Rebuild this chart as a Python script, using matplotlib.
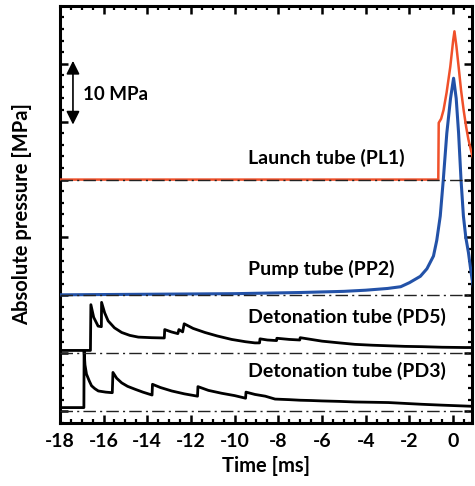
import matplotlib
matplotlib.use("Agg")
import matplotlib.pyplot as plt
from matplotlib.ticker import MultipleLocator

plt.rcParams['font.family'] = ['Lato', 'DejaVu Sans']
plt.rcParams['font.weight'] = 'bold'

# Launch tube PL1 (offset baseline 40 MPa)
pl1_t = [-18, -0.68, -0.66, -0.55, -0.44, -0.3, -0.13, 0.0, 0.06, 0.15, 0.25, 0.36, 0.48, 0.6, 0.70, 0.82, 0.93]
pl1_p = [40, 40, 49.8, 50.5, 52, 55, 59.5, 64, 65.6, 63, 59.5, 55.5, 52, 49, 46.9, 45, 43.4]

# Pump tube PP2 (offset baseline 20 MPa)
pp2_t = [-18, -14, -10, -7, -5, -4, -3, -2.4, -2.0, -1.5, -1.2, -0.9, -0.75, -0.59, -0.45, -0.29, -0.12, 0.02, 0.14, 0.25, 0.36, 0.47, 0.58, 0.70, 0.82, 0.93]
pp2_p = [20.1, 20.2, 20.3, 20.5, 20.7, 20.9, 21.2, 21.5, 22.2, 23.3, 24.6, 26.8, 29.5, 33.7, 40, 48, 54, 57.5, 54, 48, 40, 33.7, 30, 27.4, 24, 21.3]

# Detonation tube PD5 (offset baseline 10 MPa)
pd5_t = [-18, -16.6, -16.58, -16.45, -16.25, -16.1, -16.09, -15.95, -15.79, -15.5, -15.17, -14.8, -14.41, -13.8, -13.22, -13.2,
         -12.9, -12.6, -12.55, -12.38, -12.31, -11.9, -11.36, -10.8, -10.14, -9.5, -9.07, -8.86, -8.84, -8.5, -8.08, -8.07,
         -7.5, -7.02, -7.0, -6.5, -6.0, -5.2, -4.5, -3.7, -2.96, -2.2, -1.43, -0.5, 0.55, 0.9]
pd5_p = [10.5, 10.5, 18.4, 16.2, 14.7, 14.6, 18.8, 17.0, 15.6, 14.4, 13.6, 13.1, 12.8, 12.7, 12.65, 14.1,
         13.7, 13.4, 14.1, 13.7, 15.1, 14.3, 13.6, 13.0, 12.4, 12.0, 11.8, 11.8, 12.5, 12.3, 12.2, 12.6,
         12.4, 12.3, 12.7, 12.4, 12.1, 11.8, 11.55, 11.4, 11.3, 11.2, 11.15, 11.05, 11.0, 11.0]

# Detonation tube PD3 (baseline 0 MPa)
pd3_t = [-18, -16.9, -16.89, -16.85, -16.78, -16.65, -16.55, -16.4, -16.24, -15.9, -15.6, -15.57, -15.4, -15.17, -14.9,
         -14.56, -14.2, -13.78, -13.76, -13.4, -12.88, -12.3, -11.7, -11.68, -11.2, -10.59, -10.0, -9.5, -9.48, -9.07,
         -8.6, -8.15, -7.5, -7.0, -6.5, -6.0, -5.2, -4.5, -3.7, -2.96, -2.2, -1.43, -0.5, 0.55, 0.9]
pd3_p = [0.63, 0.63, 10.4, 8.0, 6.4, 5.2, 4.4, 3.9, 3.5, 3.3, 3.2, 6.7, 5.7, 4.9, 4.3,
         3.8, 3.3, 2.8, 4.65, 4.1, 3.5, 3.0, 2.6, 4.25, 3.6, 3.1, 2.7, 2.25, 3.3, 2.9,
         2.6, 2.1, 2.0, 1.9, 1.85, 1.78, 1.7, 1.6, 1.55, 1.5, 1.35, 1.2, 1.05, 0.9, 0.85]

baselines = [40, 20, 10, 0]
labels = ["Launch tube (PL1)", "Pump tube (PP2)", "Detonation tube (PD5)", "Detonation tube (PD3)"]
label_y = [43.8, 24.5, 16.2, 6.9]
xticks = [-18, -16, -14, -12, -10, -8, -6, -4, -2, 0]

fig = plt.figure(figsize=(4.75, 4.86), dpi=100)
ax = fig.add_axes([0.126, 0.130, 0.868, 0.858])

ax.plot(pd3_t, pd3_p, color='black', lw=2.0, zorder=3)
ax.plot(pd5_t, pd5_p, color='black', lw=2.0, zorder=3)
ax.plot(pp2_t, pp2_p, color='#2352a8', lw=2.2, zorder=3)
ax.plot(pl1_t, pl1_p, color='#f0502a', lw=1.8, zorder=4)

for b in baselines:
    ax.axhline(b, color='#222222', lw=1.0, linestyle=(0, (9, 3, 1.5, 3)), zorder=5)

for txt, yy in zip(labels, label_y):
    ax.text(-9.38, yy, txt, fontsize=14, fontweight='bold', va='center', ha='left', zorder=6)

ax.annotate('', xy=(-17.4, 49.5), xytext=(-17.4, 60.5),
            arrowprops=dict(arrowstyle='<|-|>', color='black', lw=1.2,
                            mutation_scale=20, shrinkA=0, shrinkB=0))
ax.text(-16.95, 54.7, "10 MPa", fontsize=13.5, fontweight='bold', va='center', ha='left')

ax.set_xlim(-18, 0.87)
ax.set_ylim(-2, 70)
ax.set_xticks(xticks)
ax.set_xticklabels([str(v) if v >= 0 else '-' + str(-v) for v in xticks])
ax.xaxis.set_minor_locator(MultipleLocator(0.5))
ax.yaxis.set_major_locator(MultipleLocator(10))
ax.yaxis.set_minor_locator(MultipleLocator(2))
ax.set_yticklabels([])
ax.tick_params(which='both', direction='in', top=True, right=True)
ax.tick_params(which='major', length=5.5, width=1.8, labelsize=14, pad=7)
ax.tick_params(which='minor', length=3, width=1.6)
for lab in ax.get_xticklabels():
    lab.set_fontweight('bold')
for s in ax.spines.values():
    s.set_linewidth(2.2)

ax.set_xlabel("Time [ms]", fontsize=14.5, fontweight='bold', labelpad=5)
ax.set_ylabel("Absolute pressure [MPa]", fontsize=14.5, fontweight='bold', labelpad=13)

fig.savefig("out.png", dpi=100)
